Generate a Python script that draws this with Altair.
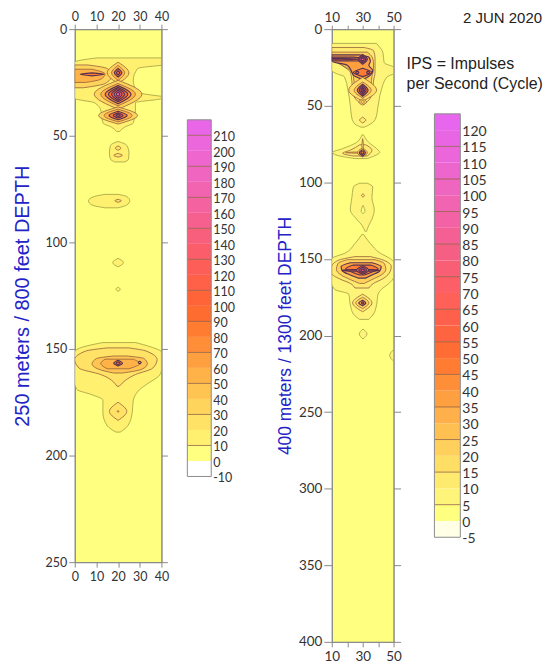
import altair as alt
import pandas as pd

# ---------------- colour classes (lower bound of each class) ----------------
L_CLASS_LABELS = [-10, 0, 10, 20, 30, 40, 50, 60, 70, 80, 90, 100, 110, 120, 130,
                  140, 150, 160, 170, 180, 190, 200, 210]
L_CLASS_TOP = 220
L_COLORS = ['#FFFFFF', '#FFFF80', '#FFF070', '#FFE266', '#FFD45C', '#FFC452', '#FFB247',
            '#FFA040', '#FF8E38', '#FF7C30', '#FF6C30', '#FF6438', '#FF6048', '#FD5E58',
            '#FB5E6A', '#F85F7C', '#F6608E', '#F462A0', '#F264B0', '#F065C0', '#EE66CE',
            '#EC66DC', '#EA66E8']
L_LINE_LEVELS = [10, 30, 50, 70, 90, 110, 130, 150, 170, 190, 210]

R_CLASS_LABELS = [-5, 0, 5, 10, 15, 20, 25, 30, 35, 40, 45, 50, 55, 60, 65, 70, 75,
                  80, 85, 90, 95, 100, 105, 110, 115, 120]
R_CLASS_TOP = 125
R_COLORS = ['#FFFFE6', '#FFFF80', '#FFF47A', '#FFEA70', '#FFDE66', '#FFD05C', '#FFC052',
            '#FFB04A', '#FFA040', '#FF8E38', '#FF7C32', '#FF6C34', '#FF6440', '#FF604C',
            '#FF6058', '#FC5F66', '#F95F74', '#F65F84', '#F46094', '#F262A4', '#F064B2',
            '#EE66C0', '#EC66CE', '#EA66DA', '#E866E4', '#E666EE']
R_LINE_LEVELS = [5, 15, 25, 35, 45, 55, 65, 75, 85, 95, 105, 115]

# contour line colours: (level at which the style starts, colour, width)
L_LINE_STYLE = [(-10, '#a0a043', 0.8), (20, '#94603a', 0.8), (60, '#553350', 1.2)]
R_LINE_STYLE = [(-5, '#a0a043', 0.8), (10, '#94603a', 0.8), (30, '#553350', 1.2)]

# ---------------- left profile (250 m): free-form contour regions ----------------
# (level, depths, left x, right x)
L_UPPER_ENVELOPE = (10, [13.5, 15.5, 17, 30, 32.5, 34.5, 38, 44, 46, 48],
                    [10, 0, 0, 0, 0, 9, 12, 13, 17, 19.3],
                    [40, 40, 40, 40, 40, 28, 28, 27, 23, 20.7])
L_UPPER_GAP = (0, [17, 18.5, 24, 29.5, 31.5], [40, 29, 27, 29, 40], [40, 40, 40, 40, 40])
L_BAND_OUTER = (30, [16.8, 18.5, 22, 25.5, 27.5], [0, 0, 0, 0, 0], [6, 15, 17, 14, 4])
L_BAND_INNER = (50, [18.8, 21, 23.5, 25], [0, 0, 0, 0], [8, 14, 12, 5])
L_PENTAGON = (10, [52.8, 54.5, 58, 61, 62.3], [19.5, 16.5, 16, 16.5, 18.5], [20.5, 24, 25, 24.8, 23])
L_BLOB_80 = (10, [77.5, 78.5, 80.5, 82.5, 83.8], [14, 9, 6.3, 8, 14], [20, 24, 25.4, 24, 20])
L_LOWER_ENVELOPE = (10, [147, 149, 151.5, 160, 163, 166, 169, 171.5, 174, 180, 186, 189],
                    [13, 4, 0, 0, 0, 0, 1, 8, 13, 13, 15, 19],
                    [28, 35, 40, 40, 38.5, 34, 30, 28, 27, 26.5, 24.5, 21])
L_LOWER_20 = (20, [149.5, 151, 155, 159, 162, 167.5], [15, 5, 0, 2, 12, 19.5], [25, 33, 38, 36, 28, 20.5])
L_LOWER_40 = (40, [153.3, 154.5, 157, 159.5, 161.3], [18, 10, 8, 11, 18], [24, 32, 33.5, 31, 22])
L_LOWER_50 = (50, [154.8, 156.8, 159.3], [14, 12, 15], [27, 30, 25])
L_FREEFORM = [L_UPPER_ENVELOPE, L_UPPER_GAP, L_BAND_OUTER, L_BAND_INNER, L_PENTAGON, L_BLOB_80,
              L_LOWER_ENVELOPE, L_LOWER_20, L_LOWER_40, L_LOWER_50]

# left profile: diamond-shaped rings (level, top, middle, bottom depth, left, centre, right x)
L_DIA_LEVEL = [80, 30, 50, 80, 110, 30, 50, 70, 90, 110, 140, 170,
               30, 50, 80, 110, 140, 20, 20, 20, 10, 10, 70, 90, 60, 20, 40]
L_DIA_TOP = [20.5, 15.5, 17, 18.5, 19.5, 24, 25.5, 26.5, 27.3, 28, 28.7, 29.5,
             36.5, 37.5, 38.5, 39.3, 40, 54.8, 58.3, 79.8, 107.5, 121, 155.3, 156, 155.8, 175, 178.8]
L_DIA_MID = [21.2, 20.5, 20.5, 20.5, 20.5, 30.5, 30.5, 30.5, 30.5, 30.5, 30.5, 30.5,
             40.5, 40.5, 40.5, 40.5, 40.5, 55.8, 59.2, 80.5, 109.5, 122, 156.7, 156.7, 156.4, 179.3, 179.3]
L_DIA_BOT = [21.9, 25.5, 24, 22.5, 21.5, 37.5, 36, 35, 34, 33.3, 32.5, 31.5,
             44.5, 43.5, 42.5, 41.7, 41, 56.8, 60, 81.2, 111.5, 123, 158, 157.4, 157, 183.5, 179.8]
L_DIA_XL = [2.5, 15, 17, 18.3, 19.2, 9, 12, 14, 15.5, 17, 18.2, 19.2,
            11, 13.5, 15.8, 17.8, 19, 18.7, 18, 18.5, 17.5, 19, 18, 19, 29.3, 16, 19.6]
L_DIA_XC = [8, 20, 20, 20, 20, 20, 20, 20, 20, 20, 20, 20,
            20, 20, 20, 20, 20, 20, 20, 20, 20, 20, 20, 20, 30, 20, 20]
L_DIA_XR = [13.5, 25, 23, 21.7, 20.8, 31, 28, 26, 24.5, 23, 21.8, 20.8,
            29, 26.5, 24.2, 22.2, 21, 21.3, 22, 21.5, 22.5, 21, 22, 21, 30.7, 24, 20.4]

# ---------------- right profile (400 m): free-form contour regions ----------------
R_UPPER_ENVELOPE = (5, [9.3, 10.5, 15, 22, 25, 27, 29, 31, 40, 50, 58, 62, 64],
                    [10, 10, 10, 10, 10, 10, 13, 18, 20.5, 22, 23, 25, 29],
                    [39, 40, 43, 44, 50, 50, 50, 46, 42, 40, 38.5, 35, 31])
R_UPPER_10 = (10, [12, 14, 19, 24, 28, 34, 40, 45, 49],
              [10, 10, 10, 17, 22, 23, 23.5, 25, 29], [31, 37, 38, 38, 38, 37, 36.5, 35, 31])
R_UPPER_20 = (20, [15, 18, 22, 26, 31, 36, 41, 44],
              [10, 10, 14, 21, 24, 24.5, 25, 28], [33, 36, 37, 37, 36, 35.5, 35, 32])
R_UPPER_35 = (35, [16.8, 18.3, 21, 23.5, 27, 30, 32.5],
              [10, 10, 10, 20, 22.5, 24, 29], [28, 34, 35, 34, 36.5, 35, 31])
R_BAND_45 = (45, [18.3, 19.5, 20.8], [10, 10, 10], [24, 33, 26])
R_BAND_60 = (60, [19.1, 19.6, 20.1], [10, 10, 10], [17, 27, 17])
R_BLOB_80_5 = (5, [69, 74, 78, 80.5, 82.5, 84.5], [29.5, 26, 17, 10.5, 14, 25], [30.5, 34, 39, 41, 38, 33])
R_BLOB_80_10 = (10, [75.5, 79, 81, 82.8], [28, 22, 17, 24], [32, 36, 35, 33])
R_COLUMN_110 = (5, [100.6, 103, 110, 118, 124, 128, 132],
                [28, 24, 23, 22, 26, 29.5, 31.5], [33, 36.5, 36, 37.5, 36, 34, 32.5])
R_LOWER_ENVELOPE = (5, [134, 140, 146, 150, 152, 162, 166, 170, 173, 180, 186, 189.5],
                    [29.5, 25, 19, 10, 10, 10, 10, 12, 21, 22, 24, 28],
                    [30.5, 35, 41, 48, 50, 50, 47, 42, 40, 39, 37, 34])
R_LOWER_10 = (10, [148.5, 151, 155, 159.5, 163, 166, 169], [25, 14, 10, 10, 15, 22, 25], [35, 44, 48.5, 47, 43, 37, 34])
R_LOWER_20 = (20, [150.5, 153, 157, 160.5, 163.5, 166], [20, 14, 13, 16, 22, 28], [38, 44, 45, 42, 36, 31])
R_LOWER_35 = (35, [152.5, 155, 158, 160.5, 162.5], [22, 16, 17, 22, 27], [36, 42, 41, 36, 32])
R_LOWER_45 = (45, [154, 156.5, 159, 160.5], [24, 19, 24, 28], [35, 40, 35, 31])
R_LOWER_60 = (60, [157, 157.5, 158], [22, 16.5, 22], [36, 41, 36])
R_EDGE_212 = (5, [209.5, 213, 216.5], [49.7, 47.5, 49.7], [50, 50, 50])
R_FREEFORM = [R_UPPER_ENVELOPE, R_UPPER_10, R_UPPER_20, R_UPPER_35, R_BAND_45, R_BAND_60,
              R_BLOB_80_5, R_BLOB_80_10, R_COLUMN_110, R_LOWER_ENVELOPE, R_LOWER_10,
              R_LOWER_20, R_LOWER_35, R_LOWER_45, R_LOWER_60, R_EDGE_212]

R_DIA_LEVEL = [55, 75, 95, 45, 55, 55, 15, 25, 45, 65, 85, 105, 15, 20, 10,
               25, 20, 35, 50, 10, 10, 0, 55, 70, 90, 10, 20, 35, 50, 5]
R_DIA_TOP = [16.5, 17.5, 18.5, 25.5, 27.3, 27.3, 31.5, 34.5, 36, 37, 38, 38.8, 45.5, 46.5, 57.5,
             80.2, 77.5, 78.5, 79.5, 71.5, 107.5, 115, 154.5, 155.5, 156.5, 173, 175, 177, 178, 195.8]
R_DIA_MID = [19.7, 19.7, 19.7, 28.3, 28.3, 28.3, 39.9, 39.9, 39.9, 39.9, 39.9, 39.9, 47.5, 47.5, 59.4,
             80.6, 80.7, 80.7, 80.7, 76, 108.6, 119, 157.4, 157.4, 157.4, 178.7, 178.7, 178.7, 178.7, 199]
R_DIA_BOT = [23, 22, 21, 31, 29.3, 29.3, 47, 45, 43.8, 42.8, 41.8, 41, 49.6, 48.6, 61.3,
             81, 83.5, 82.8, 81.9, 80, 109.7, 120.5, 160, 159.2, 158.3, 184.5, 182.5, 180.5, 179.5, 202.3]
R_DIA_XL = [27, 28, 29, 24, 25.5, 32.5, 21, 24.5, 26.5, 27.8, 28.8, 29.4, 27.5, 28.8, 28,
            19, 26.5, 27.8, 28.8, 29.5, 29.2, 29, 26, 27.5, 28.7, 23.5, 25.5, 27.5, 29.2, 27.8]
R_DIA_XC = [30, 30, 30, 30, 26.5, 33.5, 30, 30, 30, 30, 30, 30, 30, 30, 30,
            25, 30, 30, 30, 30, 30.2, 30.2, 30, 30, 30, 30, 30, 30, 30, 30.2]
R_DIA_XR = [33, 32, 31, 36, 27.5, 34.5, 39, 35.5, 33.5, 32.2, 31.2, 30.6, 32.5, 31.2, 32,
            30, 33, 31.8, 30.8, 30.5, 31.2, 31.5, 34, 32.5, 31.3, 36, 34, 32, 30.8, 32.8]

# ---------------- text ----------------
L_TITLE = "250 meters / 800 feet DEPTH"
R_TITLE = "400 meters / 1300 feet DEPTH"
NOTE_LINES = ["IPS = Impulses", "per Second (Cycle)"]
DATE_TEXT = "2 JUN 2020"
L_X_TICKS = [0, 10, 20, 30, 40]
L_Y_TICKS = [0, 50, 100, 150, 200, 250]
R_X_TICKS = [10, 20, 30, 40, 50]
R_Y_TICKS = [0, 50, 100, 150, 200, 250, 300, 350, 400]

LABEL_FONT = "Lato"
TEXT_FONT = "Liberation Sans"
AXIS_GREY = "#8a8a8a"
TITLE_BLUE = "#2323c8"


def class_color(level, labels, colors):
    idx = 0
    for i, lo in enumerate(labels):
        if level >= lo:
            idx = i
    return colors[idx]


def line_style(level, styles):
    out = styles[0]
    for s in styles:
        if level >= s[0]:
            out = s
    return out


def regions_frame(freeform, dia, labels, colors, styles):
    rows = []
    k = 0

    def add(key, lv, d, a, b):
        st = line_style(lv, styles)
        rows.append({"key": key, "level": lv, "depth": d, "xl": a, "xr": b,
                     "fillc": class_color(lv, labels, colors), "linec": st[1], "lw": st[2]})

    for level, depths, lefts, rights in freeform:
        for d, a, b in zip(depths, lefts, rights):
            add(f"r{k:03d}", level, d, a, b)
        k += 1
    for lv, t, m, b, xl, xc, xr in zip(*dia):
        for d, a, c in ((t, xc, xc), (m, xl, xr), (b, xc, xc)):
            add(f"r{k:03d}", lv, d, a, c)
        k += 1
    return pd.DataFrame(rows)


def panel(df, xdom, xticks, ydom, yticks, w, h, bg, title,
          lab_size, title_size, title_pad, top_pad, bottom_pad, left_tick, right_tick,
          top_tick, bottom_tick, label_expr=None):
    xs = alt.Scale(domain=xdom, nice=False, zero=False)
    ys = alt.Scale(domain=ydom, nice=False, zero=False, reverse=True)
    common = dict(grid=False, domainColor=AXIS_GREY, tickColor=AXIS_GREY, labelFont=LABEL_FONT,
                  labelFontSize=lab_size, labelColor="#333333", labelFlush=False,
                  labelOverlap=False)
    xextra = {"labelExpr": label_expr} if label_expr else {}
    area = alt.Chart(df).mark_area(
        orient="horizontal", interpolate="monotone", opacity=1, fillOpacity=1, clip=True
    ).encode(
        y=alt.Y("depth:Q", scale=ys,
                axis=alt.Axis(orient="left", values=yticks, tickSize=left_tick, labelPadding=2,
                              title=title, titleColor=TITLE_BLUE, titleFont=TEXT_FONT,
                              titleFontSize=title_size, titleFontWeight="normal",
                              titlePadding=title_pad, **common)),
        x=alt.X("xl:Q", scale=xs,
                axis=alt.Axis(orient="top", values=xticks, tickSize=top_tick,
                              labelPadding=top_pad, title=None, **common, **xextra)),
        x2="xr:Q",
        detail="key:N",
        fill=alt.Fill("fillc:N", scale=None),
        stroke=alt.Stroke("linec:N", scale=None),
        strokeWidth=alt.StrokeWidth("lw:Q", scale=None),
    )
    frame = alt.Chart(df).mark_point(opacity=0).encode(
        y=alt.Y("depth:Q", scale=ys,
                axis=alt.Axis(orient="right", values=yticks, tickSize=right_tick, labels=False,
                              title=None, **common)),
        x=alt.X("xl:Q", scale=xs,
                axis=alt.Axis(orient="bottom", values=xticks, tickSize=bottom_tick,
                              labelPadding=bottom_pad, title=None, **common, **xextra)),
    )
    return alt.layer(area, frame).resolve_axis(x="independent", y="independent").properties(
        width=w, height=h, view=alt.ViewBackground(fill=bg, stroke=AXIS_GREY, strokeWidth=1)
    )


def colorbar(labels, top, colors, line_levels, bar_x0, bar_x1, y_lo, y_hi, lab_size):
    his = labels[1:] + [top]
    cb = pd.DataFrame({"lo": labels, "hi": his, "color": colors})
    ys = alt.Scale(domain=[labels[0], top], range=[y_lo, y_hi])
    bars = alt.Chart(cb).mark_rect().encode(
        y=alt.Y("lo:Q", scale=ys, axis=None), y2="hi:Q",
        x=alt.value(bar_x0), x2=alt.value(bar_x1),
        fill=alt.Fill("color:N", scale=None),
    )
    lines = alt.Chart(pd.DataFrame({"v": line_levels})).mark_rule(
        color="#8a5a3c", strokeWidth=1, opacity=0.75
    ).encode(y=alt.Y("v:Q", scale=ys, axis=None), x=alt.value(bar_x0), x2=alt.value(bar_x1))
    box = alt.Chart(pd.DataFrame({"lo": [labels[0]], "hi": [top]})).mark_rect(
        fill="transparent", stroke="#8c8c8c", strokeWidth=1
    ).encode(y=alt.Y("lo:Q", scale=ys, axis=None), y2="hi:Q",
             x=alt.value(bar_x0), x2=alt.value(bar_x1))
    text = alt.Chart(pd.DataFrame({"v": labels, "t": [str(v) for v in labels]})).mark_text(
        align="left", baseline="middle", font=LABEL_FONT, fontSize=lab_size, color="#333333", dy=2
    ).encode(y=alt.Y("v:Q", scale=ys, axis=None), x=alt.value(bar_x1 + 2), text="t:N")
    return [bars, lines, box, text]


left_df = regions_frame(L_FREEFORM, (L_DIA_LEVEL, L_DIA_TOP, L_DIA_MID, L_DIA_BOT,
                                     L_DIA_XL, L_DIA_XC, L_DIA_XR),
                        L_CLASS_LABELS, L_COLORS, L_LINE_STYLE)
right_df = regions_frame(R_FREEFORM, (R_DIA_LEVEL, R_DIA_TOP, R_DIA_MID, R_DIA_BOT,
                                      R_DIA_XL, R_DIA_XC, R_DIA_XR),
                         R_CLASS_LABELS, R_COLORS, R_LINE_STYLE)

left_panel = panel(left_df, [0, 40], L_X_TICKS, [0, 250], L_Y_TICKS, 87, 535,
                   L_COLORS[1], L_TITLE, 12.5, 20, 13, 1, 3, 6, 6, 5, 5)
right_panel = panel(right_df, [10, 50], R_X_TICKS, [0, 400], R_Y_TICKS, 62, 615,
                    R_COLORS[1], R_TITLE, 13.5, 17.5, 4, 1, 3, 8, 7, 4, 5,
                    label_expr="datum.value % 20 == 10 ? datum.label : ''")

left_cb = alt.layer(*colorbar(L_CLASS_LABELS, L_CLASS_TOP, L_COLORS, L_LINE_LEVELS,
                              26, 50, 449, 91, 12.5)).properties(
    width=171, height=535, view=alt.ViewBackground(stroke="transparent"))

notes = alt.Chart(pd.DataFrame({"t": NOTE_LINES, "i": [0, 1]})).mark_text(
    align="left", baseline="middle", font=TEXT_FONT, fontSize=16, color="#222222"
).encode(text="t:N", x=alt.value(13),
         y=alt.Y("i:Q", scale=alt.Scale(domain=[0, 1], range=[35, 55]), axis=None))
date = alt.Chart(pd.DataFrame({"t": [DATE_TEXT]})).mark_text(
    align="right", baseline="middle", font=TEXT_FONT, fontSize=15, color="#222222"
).encode(text="t:N", x=alt.value(149), y=alt.value(-11))

right_cb_layers = colorbar(R_CLASS_LABELS, R_CLASS_TOP, R_COLORS, R_LINE_LEVELS,
                           41, 67, 510, 85, 14)
right_cb = alt.layer(*right_cb_layers, notes, date).resolve_scale(y="independent").properties(
    width=150, height=615, view=alt.ViewBackground(stroke="transparent"))

chart = alt.hconcat(left_panel, left_cb, right_panel, right_cb, spacing=0, bounds="flush").properties(
    padding={"left": 3, "top": 0, "right": 0, "bottom": 0}
).configure_view(stroke="transparent")

chart.save("out.html", embed_options={"renderer": "svg", "actions": False})
